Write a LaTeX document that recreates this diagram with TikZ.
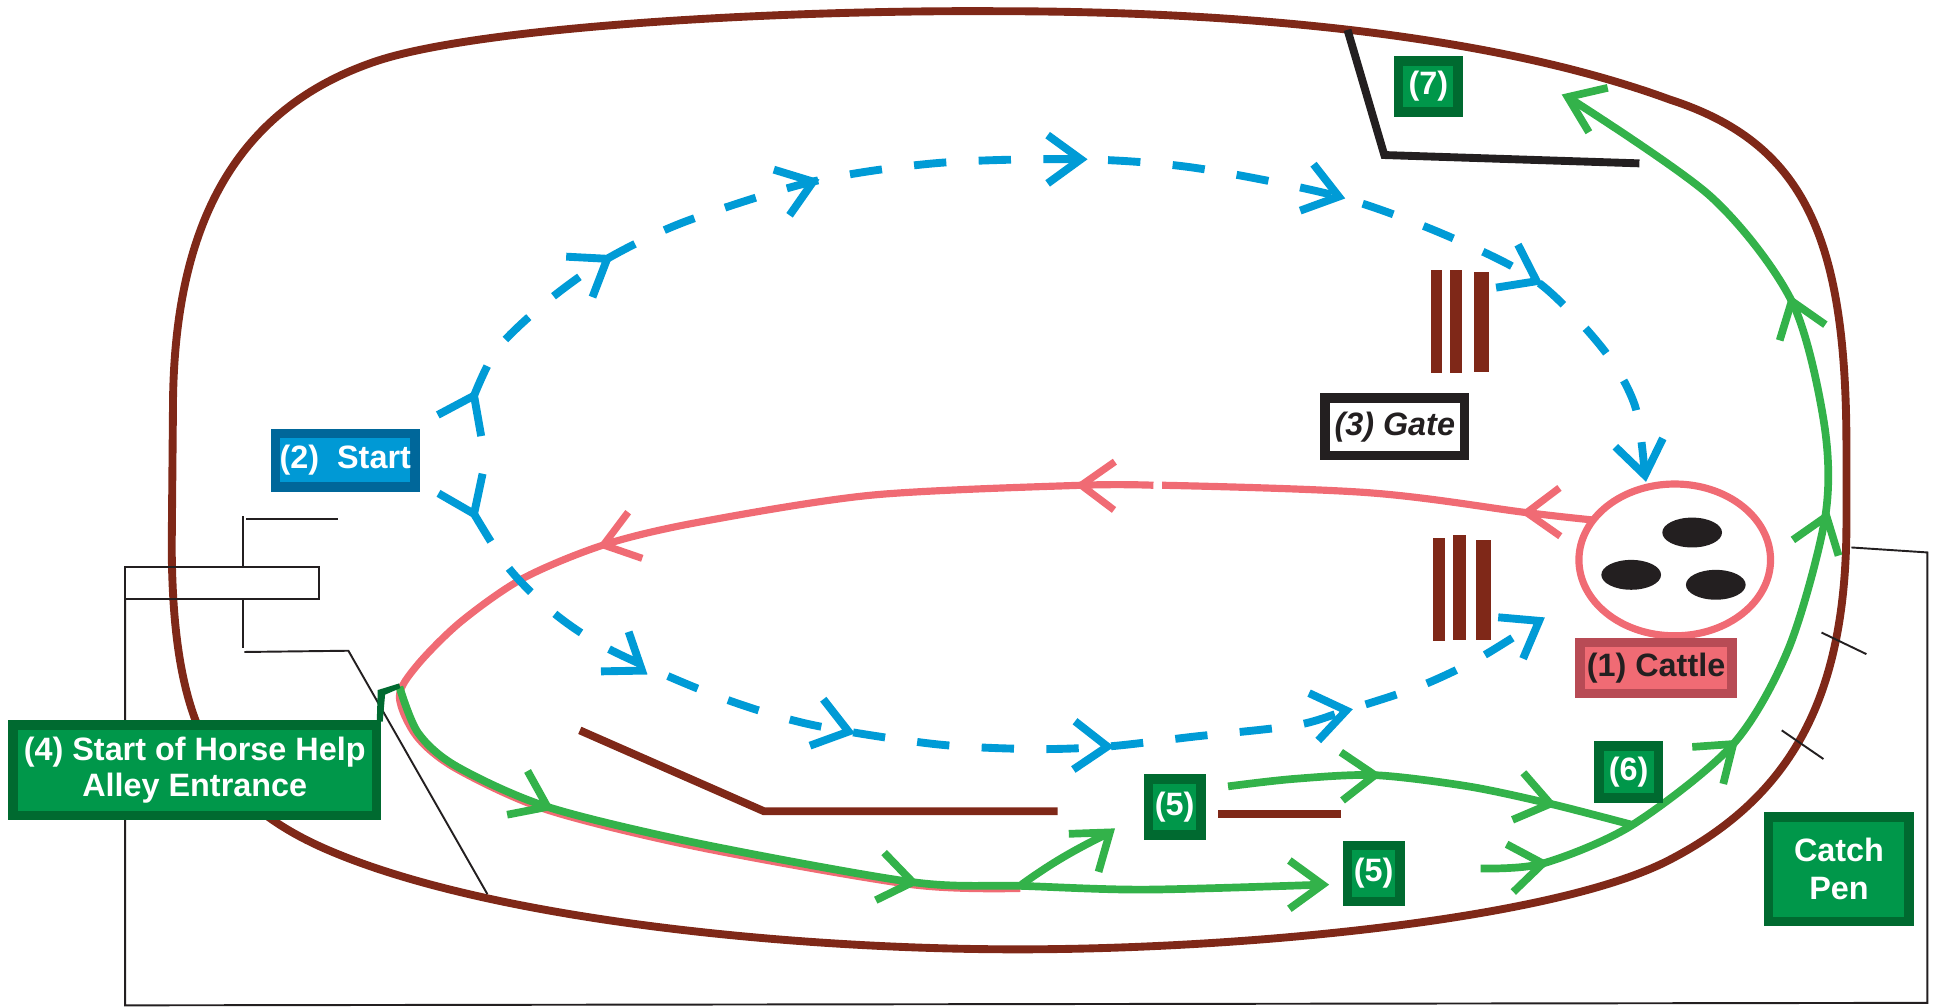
\documentclass[tikz,border=0pt]{standalone}
\usepackage{fontspec}
\setmainfont{Liberation Sans}
\definecolor{fencebrown}{HTML}{7F2818}
\definecolor{runblue}{HTML}{009BD6}
\definecolor{boxblue}{HTML}{0099D5}
\definecolor{boxblueline}{HTML}{00679A}
\definecolor{herdred}{HTML}{F06B74}
\definecolor{herdredline}{HTML}{B84B55}
\definecolor{horsegreen}{HTML}{33B24A}
\definecolor{boxgreen}{HTML}{00974A}
\definecolor{boxgreenline}{HTML}{006A30}
\definecolor{ink}{HTML}{231F20}
\newcommand{\vtip}[3][]{\draw[#1] (#2) ++(#3+144:33) -- (#2) -- ++(#3-144:33);}
\begin{document}
\begin{tikzpicture}[x=0.025cm, y=-0.025cm,
  tagbox/.style={draw, line width=5.5pt, inner sep=0pt, align=center, font=\fontsize{18.5}{20.6}\selectfont\bfseries},
  greenbox/.style={tagbox, fill=boxgreen, draw=boxgreenline, text=white},
  fenceline/.style={fencebrown, line width=4.5pt},
  thinline/.style={ink, line width=1.1pt},
  runline/.style={runblue, line width=4.5pt, dash pattern=on 18.5pt off 18.5pt},
  runtip/.style={runblue, line width=4.5pt},
  herdline/.style={herdred, line width=4.1pt},
  horseline/.style={horsegreen, line width=4.4pt}]
\useasboundingbox (0,0) rectangle (1560,809);
\draw[fenceline] (138,440) -- (139,330) .. controls (139,180) and (190,88) .. (300,50)
  .. controls (380,22) and (620,8) .. (800,9)
  .. controls (1000,9) and (1200,28) .. (1342,80)
  .. controls (1450,115) and (1484,190) .. (1484,360) -- (1484,420)
  .. controls (1484,560) and (1440,640) .. (1342,691)
  .. controls (1250,739) and (1000,763) .. (818,763)
  .. controls (640,763) and (400,740) .. (268,685)
  .. controls (169,644) and (139,580) .. cycle;
\draw[thinline] (100.5,456) rectangle (256.7,481.5);
\draw[thinline] (195.6,415) -- (195.6,456);
\draw[thinline] (198,417) -- (272,417);
\draw[thinline] (195.6,481.5) -- (195.6,520.4);
\draw[thinline] (196.4,524) -- (280,523) -- (391.7,718.6);
\draw[thinline] (100.5,481.5) -- (100.5,808) -- (1549,806) -- (1549,444) -- (1488,440);
\draw[thinline] (1464,508.4) -- (1500,525.7);
\draw[thinline] (1432,587) -- (1465.5,610);
\draw[ink, line width=4.5pt] (1083,24) -- (1112.6,124.6) -- (1317.6,131.3);
\fill[fencebrown] (1150,217) rectangle (1159,300);
\fill[fencebrown] (1165,217) rectangle (1175,300);
\fill[fencebrown] (1185,219) rectangle (1197,299);
\fill[fencebrown] (1152,432) rectangle (1161,515);
\fill[fencebrown] (1168,430) rectangle (1178,514);
\fill[fencebrown] (1186,434) rectangle (1198.5,514);
\draw[fencebrown, line width=4.5pt] (466,587) -- (614,652) -- (850,652);
\draw[fencebrown, line width=4.5pt] (979,654) -- (1078,654);
\draw[herdline] (1346,450) ellipse [x radius=77, y radius=61];
\fill[ink] (1360,428) ellipse [x radius=24, y radius=12];
\fill[ink] (1311,462) ellipse [x radius=24, y radius=12];
\fill[ink] (1379,470) ellipse [x radius=24, y radius=12];
\draw[herdline] plot[smooth, tension=0.6] coordinates {(1281,418) (1227,412) (1100,396) (934,390)};
\draw[herdline] plot[smooth] coordinates {(927,390) (869,390) (700,398) (560,420) (485,438) (420,465) (370,500) (335,535) (321,560) (335,592) (367,618) (440,651) (562,681) (733,711) (820,714)};
\vtip[herdline]{1227,412}{179}
\vtip[herdline]{869,390}{181}
\vtip[herdline]{485,438}{163}
\draw[runline] plot[smooth] coordinates {(381,318) (400,280) (440,242) (488,208) (551,178) (653,146) (754,131) (869,128) (961,135) (1076,158) (1162,189) (1235,226) (1288,280) (1314,326) (1322,382)};
\draw[runline] plot[smooth] coordinates {(381,413) (410,458) (448,495) (492,523) (575,559) (650,582) (751,598) (830,602) (890,600) (960,592) (1041,583) (1082,571) (1140,552) (1187,530) (1237,499)};
\vtip[runtip]{381,318}{-64}
\vtip[runtip]{488,208}{-33}
\vtip[runtip]{653.5,146}{-19}
\vtip[runtip]{868.7,128}{0}
\vtip[runtip]{1076,158}{16}
\vtip[runtip]{1235,226}{27}
\vtip[runtip]{1322,382}{80}
\vtip[runtip]{381,413}{66}
\vtip[runtip]{516,539}{35}
\vtip[runtip]{682,588}{16}
\vtip[runtip]{890,600}{2}
\vtip[runtip]{1082,571}{-11}
\vtip[runtip]{1237,499}{-31}
\draw[horseline] plot[smooth] coordinates {(321,552) (336,589) (367,616) (440,648.5) (562,678) (733.5,709) (821,712) (920,715) (1063,711)};
\draw[horseline] (821,711) .. controls (850,690) and (870,680) .. (892,669);
\draw[horseline] plot[smooth] coordinates {(987,632) (1040,626) (1105,623) (1180,632) (1246,646) (1312,663)};
\draw[horseline] plot[smooth] coordinates {(1190,698) (1240,694) (1312,663) (1393,598) (1438,520) (1467,415) (1466,340) (1440,242) (1375,158) (1260,78)};
\vtip[horseline]{440,648.5}{25}
\vtip[horseline]{733.5,709}{10}
\vtip[horseline]{1063,711}{0}
\vtip[horseline]{892,669}{-38}
\vtip[horseline]{1105,623}{-2}
\vtip[horseline]{1246,646}{13}
\vtip[horseline]{1240,694}{-8}
\vtip[horseline]{1393,598}{-40}
\vtip[horseline]{1468,415}{-71}
\vtip[horseline]{1440,242}{-109}
\vtip[horseline]{1260,78}{-157}
\fill[boxgreenline] (302.8,580) -- (303.6,554.6) -- (320.7,549.3) -- (321.8,553) -- (309.5,558.3) -- (307.6,580) -- cycle;
\node[tagbox, fill=boxblue, draw=boxblueline, text=white, minimum width=2.8cm, minimum height=1.075cm] (start) at (277.5,370) {(2)~~Start};
\node[tagbox, fill=white, draw=ink, text=ink, minimum width=2.8cm, minimum height=1.15cm] (gate) at (1121,343) {\itshape (3) Gate};
\node[tagbox, fill=herdred, draw=herdredline, text=ink, minimum width=3.05cm, minimum height=1.025cm] (cattle) at (1331,537) {(1) Cattle};
\node[greenbox, minimum width=1.2cm, minimum height=1.025cm] (seven) at (1148,69.5) {(7)};
\node[greenbox, minimum width=1.2cm, minimum height=1.05cm] (six) at (1309,620.5) {(6)};
\node[greenbox, minimum width=1.05cm, minimum height=1.125cm] (fivea) at (944,648.5) {(5)};
\node[greenbox, minimum width=1.05cm, minimum height=1.125cm] (fiveb) at (1104,702) {(5)};
\node[greenbox, minimum width=2.825cm, minimum height=2.1cm] (catchpen) at (1478,698.5) {Catch\\[1pt]Pen};
\node[greenbox, minimum width=7.3cm, minimum height=1.825cm] (alley) at (156.5,619) {(4) Start of Horse Help\\Alley Entrance};
\end{tikzpicture}
\end{document}
